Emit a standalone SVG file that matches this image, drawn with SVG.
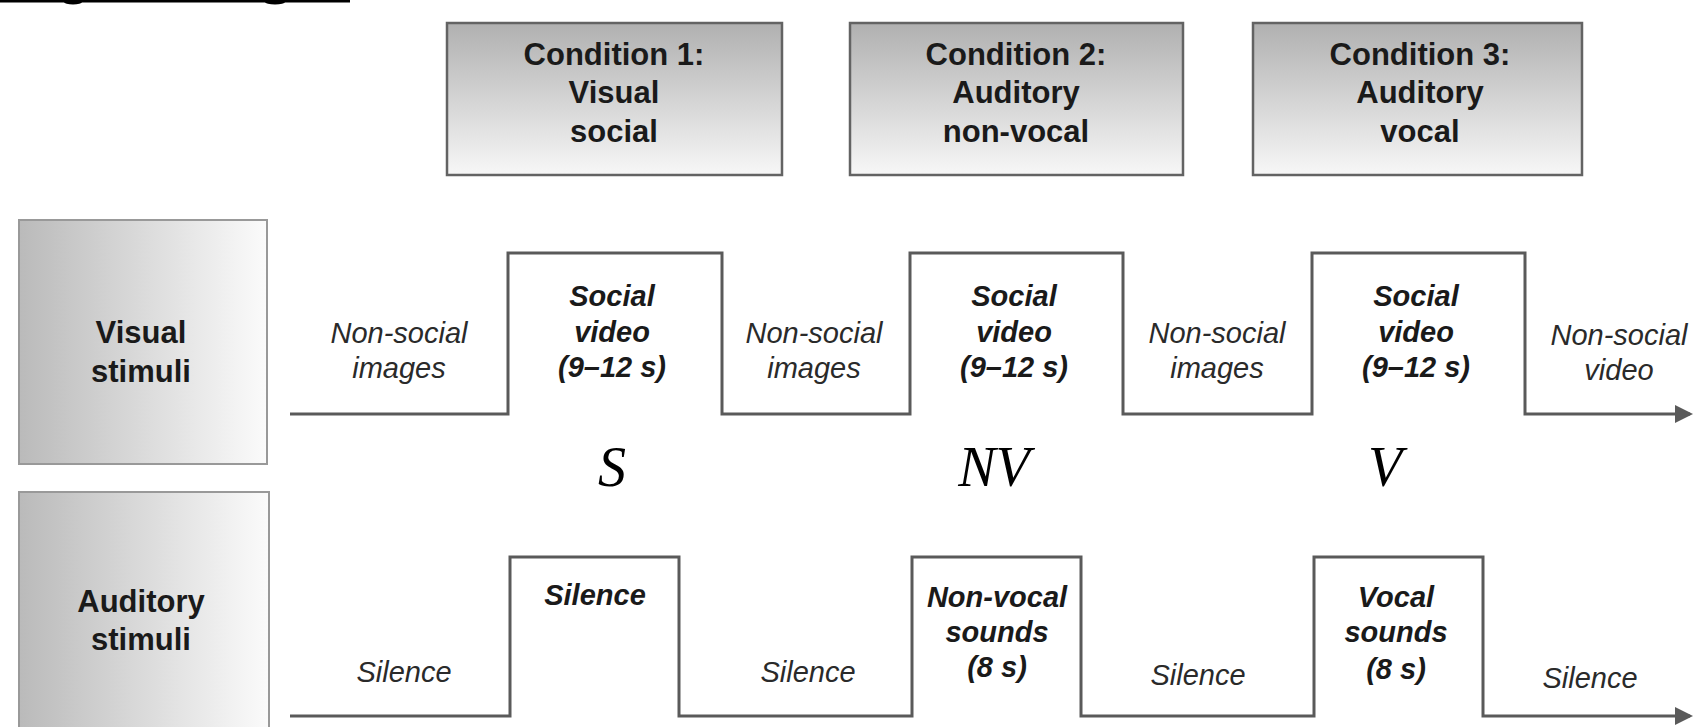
<svg xmlns="http://www.w3.org/2000/svg" width="1695" height="727" viewBox="0 0 1695 727">
<style>
.cond{fill:url(#gv);stroke:#636363;stroke-width:2.5}
.lab{fill:url(#gh);stroke:#999;stroke-width:2}
.bt{font-family:"Liberation Sans",Arial,sans-serif;font-weight:bold;font-size:31px;fill:#1a1a1a;text-anchor:middle}
.it{font-family:"Liberation Sans",Arial,sans-serif;font-style:italic;font-size:29px;fill:#2a2a2a;text-anchor:middle}
.bi{font-family:"Liberation Sans",Arial,sans-serif;font-style:italic;font-weight:bold;font-size:29px;fill:#1a1a1a;text-anchor:middle}
.sym{font-family:"Liberation Serif","Times New Roman",serif;font-style:italic;font-size:56px;fill:#000;text-anchor:middle}
.wave{fill:none;stroke:#5a5a5a;stroke-width:3}
</style>
<defs>
<linearGradient id="gv" x1="0" y1="0" x2="0" y2="1">
<stop offset="0" stop-color="#b0b0b0"/><stop offset="1" stop-color="#f7f7f7"/>
</linearGradient>
<linearGradient id="gh" x1="0" y1="0" x2="1" y2="0">
<stop offset="0" stop-color="#bababa"/><stop offset="1" stop-color="#fbfbfb"/>
</linearGradient>
<marker id="arr" markerWidth="6" markerHeight="6" refX="5" refY="3" orient="auto" markerUnits="strokeWidth">
<path d="M0,0 L6,3 L0,6 Z" fill="#5a5a5a"/>
</marker>
</defs>
<rect width="1695" height="727" fill="#fff"/>
<line x1="0" y1="1" x2="350" y2="1" stroke="#000" stroke-width="3"/>
<ellipse cx="73" cy="2" rx="9" ry="2.5" fill="#000"/>
<ellipse cx="275" cy="2" rx="10" ry="2.5" fill="#000"/>

<g id="cond1">
<rect class="cond" x="447" y="23" width="335" height="152"/>
<text class="bt" x="614" y="65">Condition 1:</text>
<text class="bt" x="614" y="103">Visual</text>
<text class="bt" x="614" y="142">social</text>
</g>
<g id="cond2">
<rect class="cond" x="850" y="23" width="333" height="152"/>
<text class="bt" x="1016" y="65">Condition 2:</text>
<text class="bt" x="1016" y="103">Auditory</text>
<text class="bt" x="1016" y="142">non-vocal</text>
</g>
<g id="cond3">
<rect class="cond" x="1253" y="23" width="329" height="152"/>
<text class="bt" x="1420" y="65">Condition 3:</text>
<text class="bt" x="1420" y="103">Auditory</text>
<text class="bt" x="1420" y="142">vocal</text>
</g>

<g id="visual-label">
<rect class="lab" x="19" y="220" width="248" height="244"/>
<text class="bt" x="141" y="343">Visual</text>
<text class="bt" x="141" y="382">stimuli</text>
</g>
<g id="auditory-label">
<rect class="lab" x="19" y="492" width="250" height="250"/>
<text class="bt" x="141" y="612">Auditory</text>
<text class="bt" x="141" y="650">stimuli</text>
</g>

<g id="connectors">
<path class="wave" marker-end="url(#arr)" d="M290,414 H508 V253 H722 V414 H910 V253 H1123 V414 H1312 V253 H1525 V414 H1690"/>
<path class="wave" marker-end="url(#arr)" d="M290,716 H510 V557 H679 V716 H912 V557 H1081 V716 H1314 V557 H1483 V716 H1690"/>
</g>

<g id="visual-texts">
<text class="it" x="399" y="343">Non-social</text>
<text class="it" x="399" y="378">images</text>
<text class="bi" x="612" y="306">Social</text>
<text class="bi" x="612" y="342">video</text>
<text class="bi" x="612" y="377">(9–12 s)</text>
<text class="it" x="814" y="343">Non-social</text>
<text class="it" x="814" y="378">images</text>
<text class="bi" x="1014" y="306">Social</text>
<text class="bi" x="1014" y="342">video</text>
<text class="bi" x="1014" y="377">(9–12 s)</text>
<text class="it" x="1217" y="343">Non-social</text>
<text class="it" x="1217" y="378">images</text>
<text class="bi" x="1416" y="306">Social</text>
<text class="bi" x="1416" y="342">video</text>
<text class="bi" x="1416" y="377">(9–12 s)</text>
<text class="it" x="1619" y="345">Non-social</text>
<text class="it" x="1619" y="380">video</text>
</g>

<g id="condition-symbols">
<text class="sym" x="612" y="486">S</text>
<text class="sym" x="994" y="486">NV</text>
<text class="sym" x="1385" y="486">V</text>
</g>

<g id="auditory-texts">
<text class="it" x="404" y="682">Silence</text>
<text class="bi" x="595" y="605">Silence</text>
<text class="it" x="808" y="682">Silence</text>
<text class="bi" x="997" y="607">Non-vocal</text>
<text class="bi" x="997" y="642">sounds</text>
<text class="bi" x="997" y="677">(8 s)</text>
<text class="it" x="1198" y="685">Silence</text>
<text class="bi" x="1396" y="607">Vocal</text>
<text class="bi" x="1396" y="642">sounds</text>
<text class="bi" x="1396" y="679">(8 s)</text>
<text class="it" x="1590" y="688">Silence</text>
</g>
</svg>
